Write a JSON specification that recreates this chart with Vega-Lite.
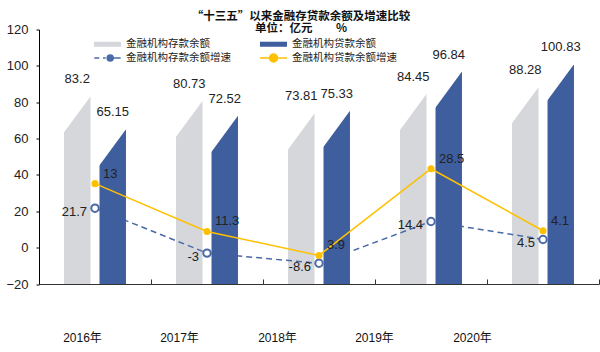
{
  "$schema": "https://vega.github.io/schema/vega-lite/v6.json",
  "width": 560,
  "height": 254.5,
  "autosize": {"type": "none"},
  "padding": {"left": 39, "top": 29.5, "right": 1, "bottom": 68},
  "background": "white",
  "title": {
    "text": "“十三五”以来金融存贷款余额及增速比较",
    "subtitle": "单位：亿元\u00a0\u00a0\u00a0\u00a0\u00a0\u00a0\u00a0\u00a0\u00a0%",
    "font": "Noto Sans CJK SC",
    "fontSize": 11.5,
    "fontWeight": "bold",
    "color": "#111",
    "lineHeight": 13,
    "subtitleFont": "Noto Sans CJK SC",
    "subtitleFontSize": 11.5,
    "subtitleFontWeight": "bold",
    "subtitleColor": "#111",
    "subtitleLineHeight": 13,
    "subtitlePadding": 1,
    "anchor": "middle",
    "dx": -18,
    "offset": -11
  },
  "data": {
    "values": [
      {"year": "2016年", "kind": "bar", "series": "金融机构存款余额", "value": 83.2, "label": "83.2"},
      {"year": "2017年", "kind": "bar", "series": "金融机构存款余额", "value": 80.73, "label": "80.73"},
      {"year": "2018年", "kind": "bar", "series": "金融机构存款余额", "value": 73.81, "label": "73.81"},
      {"year": "2019年", "kind": "bar", "series": "金融机构存款余额", "value": 84.45, "label": "84.45"},
      {"year": "2020年", "kind": "bar", "series": "金融机构存款余额", "value": 88.28, "label": "88.28"},
      {"year": "2016年", "kind": "bar", "series": "金融机构贷款余额", "value": 65.15, "label": "65.15"},
      {"year": "2017年", "kind": "bar", "series": "金融机构贷款余额", "value": 72.52, "label": "72.52"},
      {"year": "2018年", "kind": "bar", "series": "金融机构贷款余额", "value": 75.33, "label": "75.33"},
      {"year": "2019年", "kind": "bar", "series": "金融机构贷款余额", "value": 96.84, "label": "96.84"},
      {"year": "2020年", "kind": "bar", "series": "金融机构贷款余额", "value": 100.83, "label": "100.83"},
      {"year": "2016年", "kind": "line", "series": "金融机构存款余额增速", "value": 21.7, "label": "21.7"},
      {"year": "2017年", "kind": "line", "series": "金融机构存款余额增速", "value": -3, "label": "-3"},
      {"year": "2018年", "kind": "line", "series": "金融机构存款余额增速", "value": -8.6, "label": "-8.6"},
      {"year": "2019年", "kind": "line", "series": "金融机构存款余额增速", "value": 14.4, "label": "14.4"},
      {"year": "2020年", "kind": "line", "series": "金融机构存款余额增速", "value": 4.5, "label": "4.5"},
      {"year": "2016年", "kind": "line", "series": "金融机构贷款余额增速", "value": 35.2, "label": "13"},
      {"year": "2017年", "kind": "line", "series": "金融机构贷款余额增速", "value": 8.9, "label": "11.3"},
      {"year": "2018年", "kind": "line", "series": "金融机构贷款余额增速", "value": -4.3, "label": "3.9"},
      {"year": "2019年", "kind": "line", "series": "金融机构贷款余额增速", "value": 43.4, "label": "28.5"},
      {"year": "2020年", "kind": "line", "series": "金融机构贷款余额增速", "value": 9.3, "label": "4.1"}
    ]
  },
  "layer": [
    {
      "transform": [{"filter": "datum.series == '金融机构存款余额'"}],
      "mark": {"type": "bar"},
      "encoding": {
        "x": {
          "field": "year", "type": "nominal",
          "scale": {"paddingInner": 0, "paddingOuter": 0},
          "axis": {
            "title": null, "labelAngle": 0,
            "labelFont": "Liberation Sans, Noto Sans CJK SC", "labelFontSize": 12, "labelColor": "#111",
            "labelPadding": 53, "domainColor": "#333", "tickColor": "#333", "tickSize": -5, "tickBand": "extent",
            "labelOffset": {
              "condition": [
                {"test": "datum.value == '2016年'", "value": -13},
                {"test": "datum.value == '2017年'", "value": -28},
                {"test": "datum.value == '2018年'", "value": -42},
                {"test": "datum.value == '2019年'", "value": -57}
              ],
              "value": -71
            }
          }
        },
        "xOffset": {"field": "series", "type": "nominal", "scale": {"domain": ["金融机构存款余额", "金融机构贷款余额"], "paddingInner": 0.254, "paddingOuter": 0.705}},
        "y": {
          "field": "value", "type": "quantitative",
          "scale": {"domain": [-20, 120], "zero": false, "nice": false},
          "axis": {
            "title": null, "tickCount": 7, "labelOverlap": false, "labelFlush": false,
            "labelFont": "Liberation Sans", "labelFontSize": 13, "labelColor": "#222",
            "labelPadding": 8, "tickSize": 3, "domainColor": "#000", "tickColor": "#000"
          }
        },
        "y2": {"datum": -20},
        "color": {
          "field": "series", "type": "nominal",
          "scale": {
            "domain": ["金融机构存款余额", "金融机构存款余额增速", "金融机构贷款余额", "金融机构贷款余额增速"],
            "range": ["#D5D7DB", "#4A6AA8", "#3F5E9D", "#FFC000"]
          },
          "legend": {
            "orient": "none", "legendX": 61.5, "legendY": 7.5, "columns": 2, "columnPadding": 25, "rowPadding": 0,
            "title": null, "symbolSize": 144, "labelOffset": 11.5,
            "labelFont": "Noto Sans CJK SC", "labelFontSize": 10.5, "labelColor": "#222", "labelLimit": 300,
            "encode": {
              "symbols": {
                "update": {
                  "shape": {"signal": "datum.value == '金融机构存款余额增速' ? 'M-2.2,0H-1.37M-0.75,0H-0.3M1,0H2.2M0.95,0A0.5,0.5 0 1,1 -0.05,0A0.5,0.5 0 1,1 0.95,0Z' : datum.value == '金融机构贷款余额增速' ? 'M-2.25,0H2.25M0.67,0A0.67,0.67 0 1,1 -0.67,0A0.67,0.67 0 1,1 0.67,0Z' : 'M-2.25,-0.42H2.25V0.42H-2.25Z'"},
                  "fill": {"signal": "datum.value == '金融机构存款余额' ? '#D5D7DB' : datum.value == '金融机构贷款余额' ? '#3F5E9D' : datum.value == '金融机构存款余额增速' ? '#ffffff' : '#FFC000'"},
                  "stroke": {"signal": "datum.value == '金融机构存款余额增速' ? '#4A6AA8' : datum.value == '金融机构贷款余额增速' ? '#FFC000' : 'transparent'"},
                  "strokeWidth": {"value": 1.5},
                  "strokeDash": {"value": []},
                  "opacity": {"value": 1},
                  "fillOpacity": {"value": 1}
                }
              }
            }
          }
        }
      }
    },
    {
      "transform": [{"filter": "datum.series == '金融机构存款余额增速'"}],
      "mark": {"type": "line", "color": "#4A6AA8", "strokeWidth": 1.5, "strokeDash": [6, 4]},
      "encoding": {
        "x": {"field": "year", "type": "nominal"},
        "y": {"field": "value", "type": "quantitative"}
      }
    },
    {
      "transform": [{"filter": "datum.series == '金融机构贷款余额'"}],
      "mark": {"type": "bar"},
      "encoding": {
        "x": {"field": "year", "type": "nominal"},
        "xOffset": {"field": "series", "type": "nominal"},
        "y": {"field": "value", "type": "quantitative"},
        "y2": {"datum": -20},
        "color": {"field": "series", "type": "nominal"}
      }
    },
    {
      "transform": [{"filter": "datum.kind == 'bar'"}],
      "mark": {"type": "point", "shape": "M0.98,0L-1.1,2.83V-0.4H0.98Z", "size": 729, "filled": true, "fill": "white", "opacity": 1, "strokeWidth": 0},
      "encoding": {
        "x": {"field": "year", "type": "nominal"},
        "xOffset": {"field": "series", "type": "nominal"},
        "y": {"field": "value", "type": "quantitative"}
      }
    },
    {
      "transform": [{"filter": "datum.series == '金融机构贷款余额增速'"}],
      "mark": {"type": "line", "color": "#FFC000", "strokeWidth": 1.5},
      "encoding": {
        "x": {"field": "year", "type": "nominal"},
        "y": {"field": "value", "type": "quantitative"}
      }
    },
    {
      "transform": [{"filter": "datum.series == '金融机构存款余额增速'"}],
      "mark": {"type": "point", "filled": true, "fill": "white", "stroke": "#4A6AA8", "strokeWidth": 2, "size": 55, "opacity": 1},
      "encoding": {
        "x": {"field": "year", "type": "nominal"},
        "y": {"field": "value", "type": "quantitative"}
      }
    },
    {
      "transform": [{"filter": "datum.series == '金融机构贷款余额增速'"}],
      "mark": {"type": "point", "filled": true, "fill": "#FFC000", "size": 50, "opacity": 1},
      "encoding": {
        "x": {"field": "year", "type": "nominal"},
        "y": {"field": "value", "type": "quantitative"}
      }
    },
    {
      "transform": [{"filter": "datum.kind == 'bar'"}],
      "mark": {"type": "text", "font": "Liberation Sans", "fontSize": 13, "color": "#222", "align": "center", "baseline": "alphabetic", "dy": -13},
      "encoding": {
        "x": {"field": "year", "type": "nominal"},
        "xOffset": {"field": "series", "type": "nominal"},
        "y": {"field": "value", "type": "quantitative"},
        "text": {"field": "label"}
      }
    },
    {
      "transform": [{"filter": "datum.series == '金融机构存款余额增速'"}],
      "mark": {"type": "text", "font": "Liberation Sans", "fontSize": 13, "color": "#222", "align": "right", "baseline": "middle", "dx": -8, "dy": 4},
      "encoding": {
        "x": {"field": "year", "type": "nominal"},
        "y": {"field": "value", "type": "quantitative"},
        "text": {"field": "label"}
      }
    },
    {
      "transform": [{"filter": "datum.series == '金融机构贷款余额增速'"}],
      "mark": {"type": "text", "font": "Liberation Sans", "fontSize": 13, "color": "#222", "align": "left", "baseline": "middle", "dx": 8, "dy": -10},
      "encoding": {
        "x": {"field": "year", "type": "nominal"},
        "y": {"field": "value", "type": "quantitative"},
        "text": {"field": "label"}
      }
    }
  ],
  "config": {
    "view": {"stroke": null},
    "axis": {"grid": false}
  }
}
